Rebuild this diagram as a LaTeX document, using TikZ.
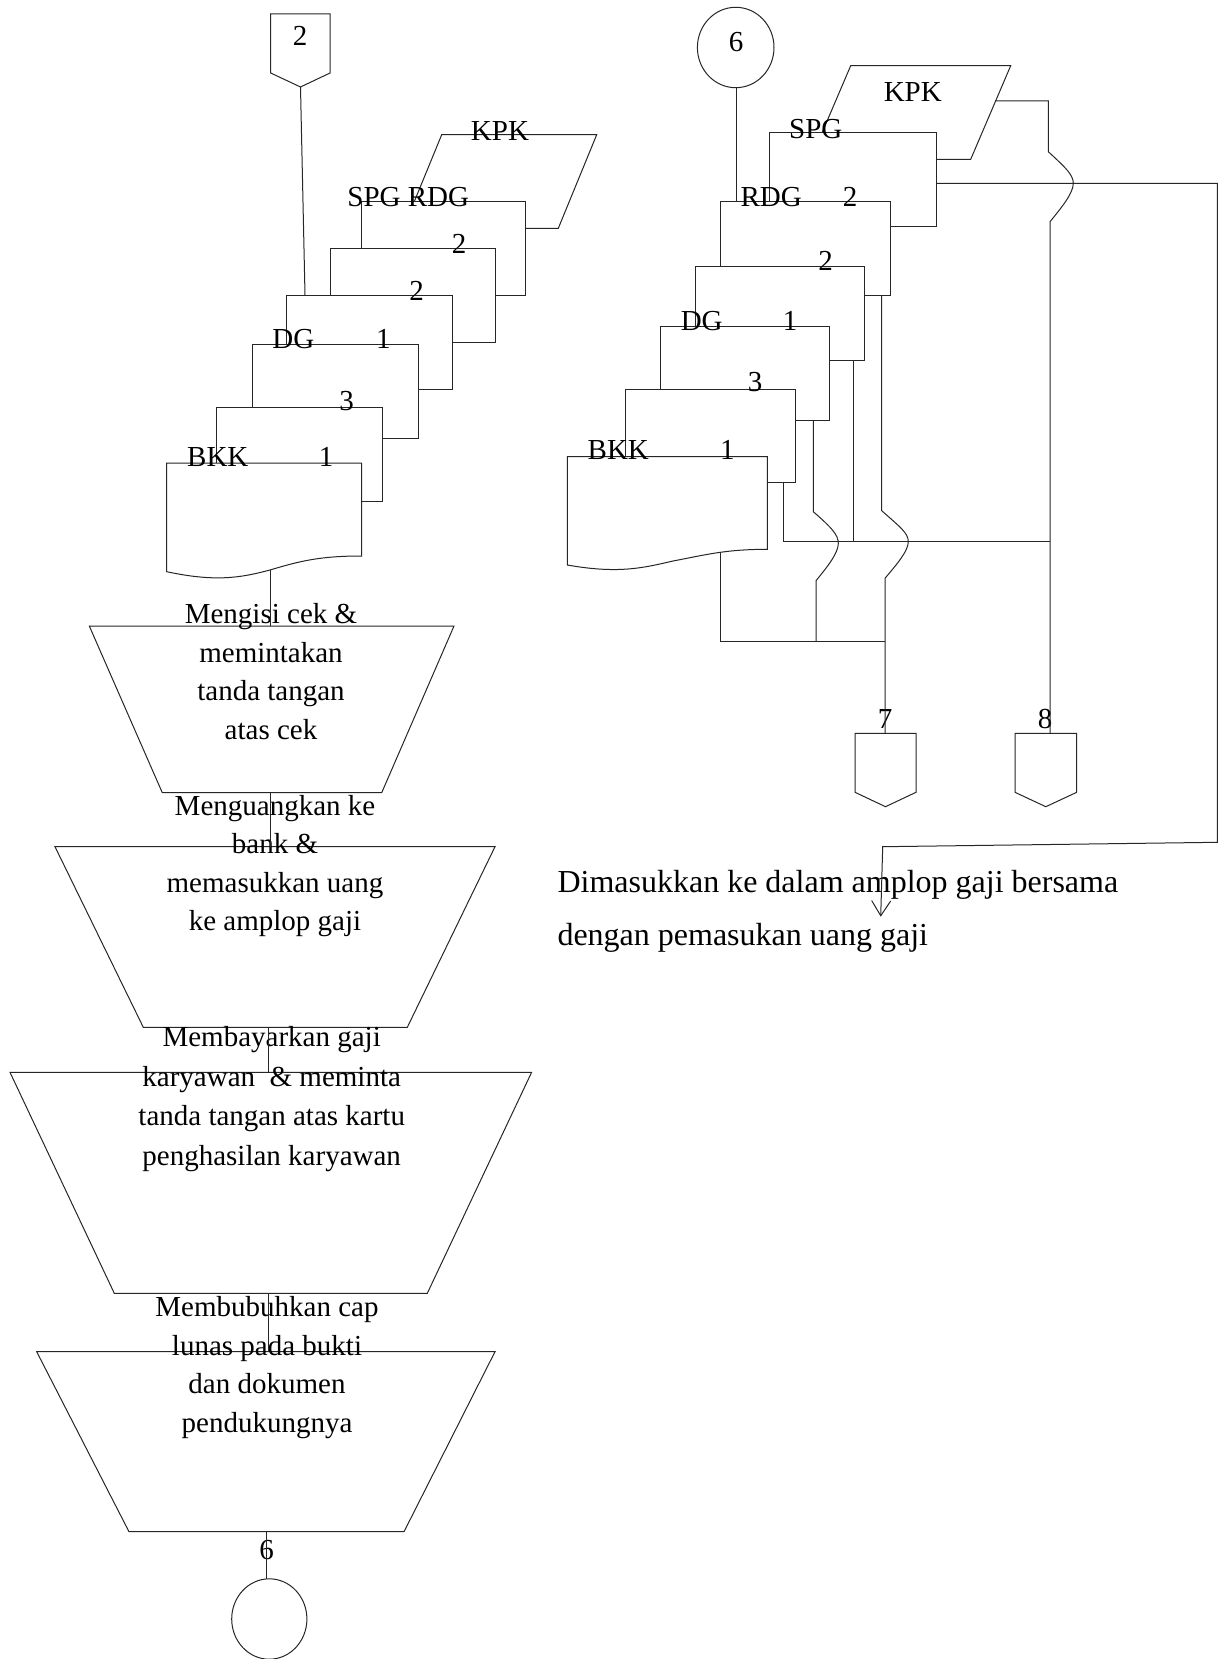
\documentclass[tikz,border=0pt]{standalone}
\usepackage{fontspec}
\setmainfont{Liberation Serif}
\usetikzlibrary{arrows.meta}
\begin{document}
\begin{tikzpicture}[x=1pt,y=-1pt,
  ln/.style={draw=black!85, line width=1pt},
  shp/.style={ln, fill=white},
  lbl/.style={font=\fontsize{29}{39}\selectfont, inner sep=0pt, anchor=base},
  proc/.style={font=\fontsize{29}{38.5}\selectfont, align=center, inner sep=0pt, anchor=north},
  note/.style={font=\fontsize{32}{53}\selectfont, align=left, inner sep=0pt, anchor=north west},
  tip/.style={-{Straight Barb[length=15pt,width=19pt]}}]
\useasboundingbox (0,0) rectangle (1219,1659);

% ================= LEFT COLUMN =================
% off-page connector 2
\draw[ln] (270.7,14) -- (330,14) -- (330,73) -- (300.5,87) -- (270.7,73) -- cycle;
\node[lbl] (cTwo) at (300,46) {2};
\coordinate (cTwoB) at (300.5,87);

% document stack (back to front)
\draw[shp] (441.7,134.7) -- (596.7,134.7) -- (558.3,228.3) -- (403.3,228.3) -- cycle;
\draw[shp] (361.7,201.7) rectangle (525,295);
\draw[shp] (330,248.3) rectangle (495,342.3);
\draw[shp] (286.7,295) rectangle (452,389.3);
\draw[shp] (252.3,344.3) rectangle (418.3,438);
\draw[shp] (216.7,407.3) rectangle (382.3,501);
\draw[shp] (166.7,463) -- (361.7,463) -- (361.7,556)
   .. controls (320,556) and (300,561) .. (270,570)
   .. controls (240,578) and (215,582) .. (166.7,571.7) -- cycle;
\coordinate (lStackTop) at (305,295);
\coordinate (lDocB) at (270.7,570);

\node[lbl] (lKPK) at (500,141) {KPK};
\node[lbl] (lSPG) at (408.3,206.7) {SPG RDG};
\node[lbl] (lTwoA) at (459,253.3) {2};
\node[lbl] (lTwoB) at (416.7,300) {2};
\node[lbl] (lDG) at (293.3,348.3) {DG};
\node[lbl] (lDGn) at (383.3,348.3) {1};
\node[lbl] (lThree) at (346.7,410) {3};
\node[lbl] (lBKK) at (217.8,466.7) {BKK};
\node[lbl] (lBKKn) at (326,466.7) {1};

\draw[ln] (cTwoB) -- (lStackTop);

% manual operations (trapezoids)
\draw[ln] (89.3,626) -- (454,626) -- (381.7,792.7) -- (162.3,792.7) -- cycle;
\draw[ln] (55,846.7) -- (495,846.7) -- (407.3,1027.3) -- (143.3,1027.3) -- cycle;
\draw[ln] (10,1072.3) -- (531.6,1072.3) -- (427.3,1293.3) -- (114.3,1293.3) -- cycle;
\draw[ln] (36.7,1351.7) -- (495,1351.7) -- (404,1531.7) -- (129,1531.7) -- cycle;
\coordinate (tOneT) at (270.7,626);
\coordinate (tOneB) at (270.7,792.7);
\coordinate (tTwoT) at (270.7,846.7);
\coordinate (tTwoB) at (268.3,1027.3);
\coordinate (tThreeT) at (268.3,1072.3);
\coordinate (tThreeB) at (268.3,1293.3);
\coordinate (tFourT) at (268.3,1351.7);
\coordinate (tFourB) at (266.7,1531.7);

\node[proc] (pOne) at (271,596.4) {\strut Mengisi cek \&\\memintakan\\tanda tangan\\atas cek};
\node[proc] (pTwo) at (275,788) {\strut Menguangkan ke\\bank \&\\memasukkan uang\\ke amplop gaji};
\node[proc, font=\fontsize{29}{39.4}\selectfont] (pThree) at (271.7,1019.1) {\strut Membayarkan gaji\\karyawan~ \& meminta\\tanda tangan atas kartu\\penghasilan karyawan};
\node[proc] (pFour) at (267,1289.7) {\strut Membubuhkan cap\\lunas pada bukti\\dan dokumen\\pendukungnya};

\draw[ln] (lDocB) -- (tOneT);
\draw[ln] (tOneB) -- (tTwoT);
\draw[ln] (tTwoB) -- (tThreeT);
\draw[ln] (tThreeB) -- (tFourT);

% on-page connector 6 (bottom)
\draw[ln] (269.3,1619) ellipse [x radius=37.6, y radius=40.2];
\coordinate (cSixBT) at (266.7,1578.8);
\node[lbl] (cSixBl) at (266.7,1559) {6};
\draw[ln] (tFourB) -- (cSixBT);

% ================= RIGHT COLUMN =================
\draw[ln] (735.7,47.5) ellipse [x radius=38.3, y radius=40.2];
\node[lbl] (cSix) at (736,51.7) {6};
\coordinate (cSixB) at (736.7,87.7);

% document stack (back to front)
\draw[shp] (850.7,65.7) -- (1010.7,65.7) -- (970.7,159.3) -- (810.7,159.3) -- cycle;
\draw[shp] (769.3,132.3) rectangle (936.7,226);
\draw[shp] (720.7,201.7) rectangle (890,295);
\draw[shp] (695.3,266.7) rectangle (864.3,360);
\draw[shp] (660.3,326.7) rectangle (829.7,420.7);
\draw[shp] (625.3,389.3) rectangle (795.3,482.7);
\draw[shp] (567.3,456.7) -- (767.3,456.7) -- (767.3,549.3)
   .. controls (725,549.3) and (705,555) .. (673,561)
   .. controls (643,568) and (618,574) .. (567.3,565) -- cycle;

\node[lbl] (rKPK) at (912.8,101.7) {KPK};
\node[lbl] (rSPG) at (815.8,138.3) {SPG};
\node[lbl] (rRDG) at (771.2,206) {RDG};
\node[lbl] (rRDGn) at (850,206) {2};
\node[lbl] (rTwo) at (825.7,270.7) {2};
\node[lbl] (rDG) at (701.7,330) {DG};
\node[lbl] (rDGn) at (790,330) {1};
\node[lbl] (rThree) at (755,391.7) {3};
\node[lbl] (rBKK) at (618.3,459) {BKK};
\node[lbl] (rBKKn) at (727.3,459) {1};

\coordinate (rStackTop) at (736.7,201.7);
\coordinate (kpkR) at (995,101);
\coordinate (spgR) at (936.7,183.3);
\coordinate (rdgB) at (881.7,295);
\coordinate (twoB) at (853.3,360);
\coordinate (dgB) at (813.3,420.7);
\coordinate (threeB) at (783.3,482.7);
\coordinate (bkkB) at (720.7,552.7);

\draw[ln] (cSixB) -- (rStackTop);

% off-page connectors 7 and 8
\draw[ln] (855,733.3) -- (916,733.3) -- (916,792.3) -- (885.5,806.7) -- (855,792.3) -- cycle;
\draw[ln] (1015,733.3) -- (1076.7,733.3) -- (1076.7,792.3) -- (1045.8,806.7) -- (1015,792.3) -- cycle;
\coordinate (cSevenT) at (885,733.3);
\coordinate (cEightT) at (1050,733.3);
\node[lbl] (cSeven) at (885,728.3) {7};
\node[lbl] (cEight) at (1045,728.3) {8};

% flow lines
\draw[ln] (threeB) -- (783.3,541) -- (1050,541);
\draw[ln] (twoB) -- (853.3,541);
\draw[ln] (dgB) -- (813.3,511.7)
   .. controls (832,528) and (838.3,535) .. (838.3,543.3)
   .. controls (838.3,553) and (828,566) .. (816,580.7) -- (816,641.7);
\draw[ln] (rdgB) -- (881.7,510.7)
   .. controls (900,527) and (908.3,533) .. (908.3,541.7)
   .. controls (908.3,551) and (897,564) .. (885,578.3) -- (cSevenT);
\draw[ln] (bkkB) -- (720.7,641.7) -- (885,641.7);
\draw[ln] (kpkR) -- (1048.3,101) -- (1048.3,151.7)
   .. controls (1066,168) and (1073.3,175) .. (1073.3,183.3)
   .. controls (1073.3,193) and (1062,207) .. (1050,221.7) -- (cEightT);

% note
\node[note] (noteTxt) at (557.3,855.6) {\strut Dimasukkan ke dalam amplop gaji bersama\\dengan pemasukan uang gaji};
\coordinate (noteTip) at (880.7,916.7);
\draw[ln, tip] (spgR) -- (1217.3,183.3) -- (1217.3,842.3) -- (882.7,846.7) -- (noteTip);
\end{tikzpicture}
\end{document}
